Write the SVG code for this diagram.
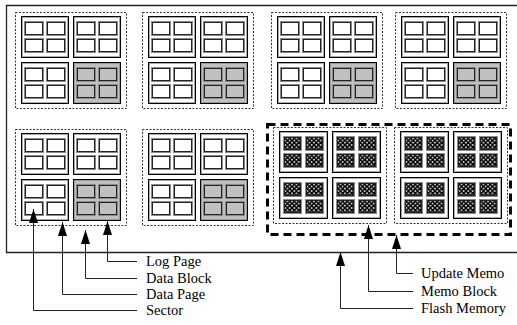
<svg xmlns="http://www.w3.org/2000/svg" xmlns:xlink="http://www.w3.org/1999/xlink" width="517" height="325" viewBox="0 0 517 325">
<style>
.bg{fill:#fff}
.frame{fill:none;stroke:#222;stroke-width:1.3}
.grp{fill:none;stroke:#333;stroke-width:1;stroke-dasharray:2 1.5}
.blk{stroke:#000;stroke-width:1}
.blkin{fill:none;stroke:#aaa;stroke-width:1}
.pgo{fill:none;stroke:#8a8a8a;stroke-width:1}
.pgi{stroke:#222;stroke-width:1}
.memo{fill:none;stroke:#000;stroke-width:3;stroke-dasharray:8 5}
.conn{fill:none;stroke:#222;stroke-width:1}
.lbl{font-family:"Liberation Serif","Times New Roman",serif;font-size:14.5px;fill:#000}
</style>
<defs>
<pattern id="hatch" patternUnits="userSpaceOnUse" width="4.5" height="4.5">
<rect width="4.5" height="4.5" fill="#fff"/>
<path d="M0,0 L4.5,4.5 M4.5,0 L0,4.5" stroke="#000" stroke-width="1.6"/>
</pattern>
<marker id="arr" viewBox="-14 -5 14 10" refX="0" refY="0" markerWidth="14" markerHeight="10" markerUnits="userSpaceOnUse" orient="auto-start-reverse">
<path d="M0,0 L-14,-4.5 L-14,4.5 Z" fill="#000"/>
</marker>
<g id="page">
<rect class="pgo" x="0.5" y="0.5" width="19" height="14"/>
<rect class="pgi" x="1.5" y="1.5" width="17" height="12" fill="#fff"/>
</g>
<g id="gpage">
<rect class="pgo" x="0.5" y="0.5" width="19" height="14"/>
<rect class="pgi" x="1.5" y="1.5" width="17" height="12" fill="#c0c0c0"/>
</g>
<g id="mpage">
<rect class="pgo" x="0.5" y="0.5" width="18" height="14"/>
<rect class="pgi" x="1.5" y="1.5" width="16" height="12" fill="url(#hatch)"/>
</g>
<g id="dblock">
<rect class="blk" x="0.5" y="0.5" width="47" height="41" fill="#fff"/>
<rect class="blkin" x="1.5" y="1.5" width="45" height="39"/>
<use xlink:href="#page" x="3" y="5"/>
<use xlink:href="#page" x="25" y="5"/>
<use xlink:href="#page" x="3" y="22"/>
<use xlink:href="#page" x="25" y="22"/>
</g>
<g id="lblock">
<rect class="blk" x="0.5" y="0.5" width="47" height="41" fill="#c0c0c0"/>
<rect class="blkin" x="1.5" y="1.5" width="45" height="39" style="stroke:#999"/>
<use xlink:href="#gpage" x="3" y="5"/>
<use xlink:href="#gpage" x="25" y="5"/>
<use xlink:href="#gpage" x="3" y="22"/>
<use xlink:href="#gpage" x="25" y="22"/>
</g>
<g id="mblock">
<rect class="blk" x="0.5" y="0.5" width="48" height="41" fill="#fff"/>
<rect class="blkin" x="1.5" y="1.5" width="46" height="39"/>
<use xlink:href="#mpage" x="4" y="5"/>
<use xlink:href="#mpage" x="26" y="5"/>
<use xlink:href="#mpage" x="4" y="22"/>
<use xlink:href="#mpage" x="26" y="22"/>
</g>
<g id="sector">
<rect class="grp" x="0.5" y="0.5" width="111" height="96"/>
<use xlink:href="#dblock" x="6" y="4"/>
<use xlink:href="#dblock" x="58" y="4"/>
<use xlink:href="#dblock" x="6" y="50"/>
<use xlink:href="#lblock" x="58" y="50"/>
</g>
<g id="msector">
<rect class="grp" x="0.5" y="0.5" width="113" height="96"/>
<use xlink:href="#mblock" x="6" y="4"/>
<use xlink:href="#mblock" x="59" y="4"/>
<use xlink:href="#mblock" x="6" y="50"/>
<use xlink:href="#mblock" x="59" y="50"/>
</g>
</defs>
<rect class="bg" width="517" height="325"/>
<g id="flash-memory">
<path class="frame" d="M517,5.5 H6.5 V252.5 H517"/>
</g>
<g id="sector-1"><use xlink:href="#sector" x="15" y="12"/></g>
<g id="sector-2"><use xlink:href="#sector" x="142" y="12"/></g>
<g id="sector-3"><use xlink:href="#sector" x="271" y="12"/></g>
<g id="sector-4"><use xlink:href="#sector" x="395" y="12"/></g>
<g id="sector-5"><use xlink:href="#sector" x="15" y="129"/></g>
<g id="sector-6"><use xlink:href="#sector" x="142" y="129"/></g>
<g id="memo-area">
<rect class="memo" x="267.5" y="124.5" width="243" height="110"/>
<use xlink:href="#msector" x="273" y="127"/>
<use xlink:href="#msector" x="394" y="127"/>
</g>
<g id="connectors">
<path class="conn" marker-start="url(#arr)" d="M107.5,221 V261.5 H137"/>
<path class="conn" marker-start="url(#arr)" d="M85.5,230 V278.5 H137"/>
<path class="conn" marker-start="url(#arr)" d="M62.5,222 V294.5 H137"/>
<path class="conn" marker-start="url(#arr)" d="M33.5,209 V310.5 H137"/>
<path class="conn" marker-start="url(#arr)" d="M396.5,235 V273.5 H413"/>
<path class="conn" marker-start="url(#arr)" d="M368.5,225 V291.5 H413"/>
<path class="conn" marker-start="url(#arr)" d="M340.5,252 V308.5 H413"/>
</g>
<g id="labels">
<text class="lbl" x="146" y="266">Log Page</text>
<text class="lbl" x="146" y="283">Data Block</text>
<text class="lbl" x="146" y="299">Data Page</text>
<text class="lbl" x="146" y="315">Sector</text>
<text class="lbl" x="421" y="278">Update Memo</text>
<text class="lbl" x="421" y="296">Memo Block</text>
<text class="lbl" x="421" y="313">Flash Memory</text>
</g>
</svg>
